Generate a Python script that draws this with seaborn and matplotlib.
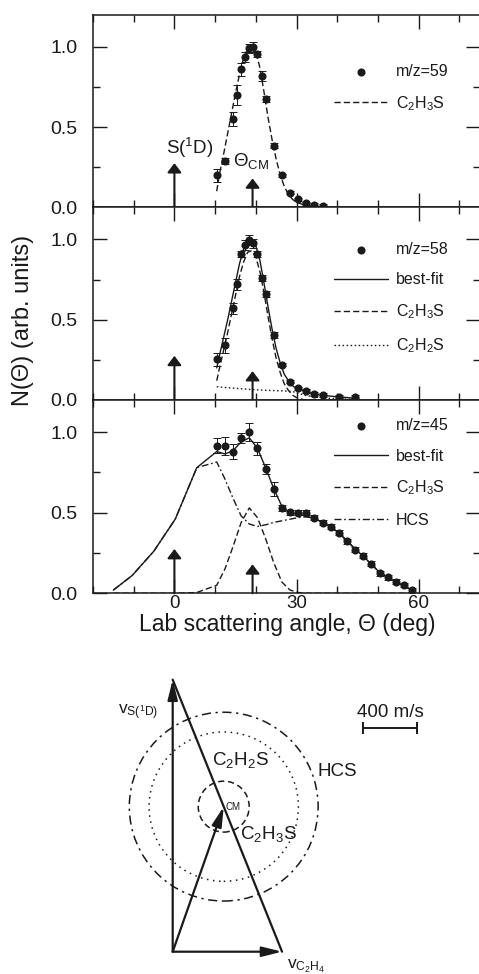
import numpy as np
import matplotlib
matplotlib.use('Agg')
import matplotlib.pyplot as plt
from matplotlib.patches import Circle
from matplotlib.ticker import FixedLocator, MultipleLocator, FormatStrFormatter
import seaborn as sns

# ---- m/z = 59 ----
ang59 = [10.4, 12.4, 14.4, 15.4, 16.4, 17.4, 18.4, 19.4, 20.4, 21.4, 22.4, 24.4, 26.4, 28.4, 30.4, 32.4, 34.4, 36.4]
val59 = [0.20, 0.29, 0.55, 0.70, 0.86, 0.935, 0.99, 1.00, 0.956, 0.82, 0.675, 0.385, 0.20, 0.09, 0.05, 0.025, 0.015, 0.01]
err59 = [0.04, 0.02, 0.045, 0.06, 0.04, 0.03, 0.03, 0.03, 0.02, 0.03, 0.02, 0.015, 0.01, 0.01, 0.01, 0.01, 0.01, 0.01]
fit59_x = [10.4, 11, 12, 13, 14, 15, 16, 17, 18, 19, 20, 21, 22, 23, 24, 25, 26, 27, 28, 29, 30, 32, 34, 36]
c2h3s59 = [0.10, 0.20, 0.32, 0.45, 0.58, 0.71, 0.83, 0.93, 0.99, 1.00, 0.97, 0.87, 0.72, 0.56, 0.42, 0.30, 0.20, 0.13, 0.08, 0.05, 0.03, 0.015, 0.008, 0.004]

# ---- m/z = 58 ----
ang58 = [10.4, 12.4, 14.4, 15.4, 16.4, 17.4, 18.4, 19.4, 20.4, 21.4, 22.4, 24.4, 26.4, 28.4, 30.4, 32.4, 34.4, 36.4, 40.4, 44.4]
val58 = [0.254, 0.34, 0.57, 0.72, 0.91, 0.965, 0.996, 0.975, 0.91, 0.76, 0.66, 0.406, 0.22, 0.115, 0.073, 0.056, 0.038, 0.031, 0.02, 0.02]
err58 = [0.04, 0.045, 0.035, 0.035, 0.02, 0.03, 0.03, 0.03, 0.02, 0.02, 0.02, 0.02, 0.01, 0.01, 0.01, 0.01, 0.01, 0.01, 0.01, 0.01]
fit58_x = [10.4, 11, 12, 13, 14, 15, 16, 17, 18, 19, 20, 21, 22, 23, 24, 25, 26, 27, 28, 29, 30, 32, 34, 36, 40, 44]
best58 = [0.20, 0.27, 0.38, 0.49, 0.61, 0.73, 0.85, 0.94, 0.99, 1.00, 0.96, 0.87, 0.73, 0.58, 0.44, 0.32, 0.23, 0.16, 0.12, 0.09, 0.07, 0.055, 0.04, 0.03, 0.02, 0.012]
c2h3s58 = [0.12, 0.19, 0.30, 0.41, 0.53, 0.65, 0.77, 0.86, 0.92, 0.93, 0.89, 0.80, 0.67, 0.52, 0.38, 0.26, 0.17, 0.10, 0.06, 0.03, 0.015, 0.0, 0.0, 0.0, 0.0, 0.0]
c2h2s58 = [0.083, 0.081, 0.079, 0.077, 0.075, 0.073, 0.071, 0.069, 0.067, 0.065, 0.064, 0.062, 0.061, 0.060, 0.059, 0.058, 0.057, 0.056, 0.055, 0.053, 0.045, 0.03, 0.02, 0.014, 0.008, 0.005]

# ---- m/z = 45 ----
ang45 = [10.4, 12.4, 14.4, 16.4, 18.4, 20.4, 22.4, 24.4, 26.4, 28.4, 30.4, 32.4, 34.4, 36.4, 38.4, 40.4,
         42.4, 44.4, 46.4, 48.4, 50.4, 52.4, 54.4, 56.4, 58.4]
val45 = [0.916, 0.9125, 0.879, 0.9625, 1.0, 0.90, 0.77, 0.646, 0.531, 0.504, 0.50, 0.50, 0.469, 0.4375, 0.4125, 0.375,
         0.3225, 0.27, 0.233, 0.183, 0.125, 0.10, 0.0725, 0.052, 0.02]
err45 = [0.045, 0.055, 0.045, 0.03, 0.055, 0.04, 0.03, 0.045, 0.02, 0.015, 0.015, 0.015, 0.015, 0.015, 0.015, 0.015,
         0.015, 0.015, 0.015, 0.015, 0.015, 0.015, 0.015, 0.015, 0.015]
fit45_x = [-15, -10.4, -5.1, 0.2, 5.5, 10.4, 12.4, 14.4, 16.4, 18.4, 20.4, 22.4, 24.4, 26.4, 28.4, 30.4, 32.4,
           34.4, 36.4, 38.4, 40.4, 42.4, 44.4, 46.4, 48.4, 50.4, 52.4, 54.4, 56.4, 58.4]
best45 = [0.02, 0.11, 0.26, 0.46, 0.78, 0.88, 0.865, 0.885, 0.94, 0.965, 0.90, 0.78, 0.65, 0.54, 0.50, 0.49, 0.48,
          0.465, 0.44, 0.41, 0.375, 0.325, 0.275, 0.23, 0.18, 0.13, 0.10, 0.07, 0.045, 0.02]
c2h3s45 = [0.0, 0.0, 0.0, 0.0, 0.005, 0.05, 0.15, 0.29, 0.44, 0.53, 0.47, 0.34, 0.19, 0.07, 0.02, 0.005, 0.0,
           0.0, 0.0, 0.0, 0.0, 0.0, 0.0, 0.0, 0.0, 0.0, 0.0, 0.0, 0.0, 0.0]
hcs45 = [0.02, 0.11, 0.26, 0.46, 0.78, 0.815, 0.71, 0.59, 0.48, 0.43, 0.415, 0.425, 0.44, 0.45, 0.46, 0.47, 0.475,
         0.465, 0.44, 0.41, 0.375, 0.325, 0.275, 0.23, 0.18, 0.13, 0.10, 0.07, 0.045, 0.02]

# arrows in the angular panels
theta_s1d = 0.0
theta_cm = 19.2

# ---- Newton diagram (m/s) ----
v_s1d = 2040
v_c2h4 = 820
m_s, m_c2h4 = 32, 28
radii = [191, 560, 708]        # C2H3S, C2H2S, HCS
scale_len = 400

sns.set_theme(style='ticks', rc={'axes.edgecolor': 'k', 'xtick.color': 'k', 'ytick.color': 'k',
                                 'text.color': 'k', 'axes.labelcolor': 'k'})
plt.rcParams['font.family'] = ['Liberation Sans', 'DejaVu Sans']
plt.rcParams['mathtext.fontset'] = 'custom'
plt.rcParams['mathtext.rm'] = 'Liberation Sans'
plt.rcParams['mathtext.it'] = 'Liberation Sans:italic'
plt.rcParams['mathtext.bf'] = 'Liberation Sans:bold'

W, H = 479, 974
fig = plt.figure(figsize=(W / 100, H / 100), dpi=100)


def px_axes(x0, y0, x1, y1):
    return fig.add_axes([x0 / W, 1 - y1 / H, (x1 - x0) / W, (y1 - y0) / H])


panel_edges = [14.7, 207.3, 400.0, 593.3]
axes = [px_axes(93, panel_edges[i], 479.7, panel_edges[i + 1]) for i in range(3)]

DASH = (0, (4.5, 2.2))
DOT = (0, (1.1, 1.8))
DASHDOT = (0, (5, 2, 1.2, 2))


def style_panel(ax, bottom_labels):
    ax.set_xlim(-20, 75)
    ax.set_ylim(0, 1.2)
    ax.xaxis.set_major_locator(MultipleLocator(30))
    ax.xaxis.set_minor_locator(MultipleLocator(10))
    ax.yaxis.set_major_locator(FixedLocator([0, 0.5, 1.0]))
    ax.yaxis.set_minor_locator(FixedLocator([0.25, 0.75]))
    ax.yaxis.set_major_formatter(FormatStrFormatter('%.1f'))
    ax.tick_params(which='both', direction='in', top=True, right=True, width=1.0)
    ax.tick_params(which='major', length=10)
    ax.tick_params(which='minor', length=5)
    ax.tick_params(axis='y', pad=11, labelsize=14)
    ax.tick_params(axis='x', labelbottom=bottom_labels, pad=1.5, labelsize=13.5)
    for s in ax.spines.values():
        s.set_linewidth(1.1)
    ax.set(xlabel='', ylabel='')


def data_points(ax, x, y, e, label):
    ax.errorbar(x, y, yerr=e, fmt='none', ecolor='k', elinewidth=0.7, capsize=2.8, capthick=0.7, zorder=2)
    sns.scatterplot(x=x, y=y, ax=ax, color='k', s=34, linewidth=0, label=label, zorder=3)
    return ax.collections[-1]


def fit_line(ax, x, y, ls, label):
    sns.lineplot(x=x, y=y, ax=ax, color='k', lw=1.0, linestyle=ls, label=label, sort=False, zorder=2)
    return ax.lines[-1]


def beam_arrows(ax):
    for xa, ha in [(theta_s1d, 0.275), (theta_cm, 0.18)]:
        ax.annotate('', xy=(xa, ha), xytext=(xa, 0),
                    arrowprops=dict(arrowstyle='-|>,head_length=0.55,head_width=0.42', mutation_scale=10,
                                    color='k', lw=1.5, shrinkA=0, shrinkB=0))


def legend(ax, handles, labels, y_top):
    ax.legend(handles, labels, loc='upper right', bbox_to_anchor=(0.919, y_top), frameon=False,
              fontsize=11.5, handlelength=3.4, handletextpad=0.45, labelspacing=0.95,
              borderpad=0, borderaxespad=0)


C2H3S = r'C$_2$H$_3$S'
C2H2S = r'C$_2$H$_2$S'

# panel 1
ax = axes[0]
h0 = data_points(ax, ang59, val59, err59, 'm/z=59')
h1 = fit_line(ax, fit59_x, c2h3s59, DASH, C2H3S)
beam_arrows(ax)
ax.text(3.8, 0.37, r'S($^1$D)', ha='center', va='center', fontsize=13.5)
ax.text(14.4, 0.29, r'$\Theta_{\mathrm{CM}}$', ha='left', va='center', fontsize=13.5)
style_panel(ax, False)
legend(ax, [h0, h1], ['m/z=59', C2H3S], 0.745)

# panel 2
ax = axes[1]
h0 = data_points(ax, ang58, val58, err58, 'm/z=58')
h1 = fit_line(ax, fit58_x, best58, '-', 'best-fit')
h2 = fit_line(ax, fit58_x, c2h3s58, DASH, C2H3S)
h3 = fit_line(ax, fit58_x, c2h2s58, DOT, C2H2S)
beam_arrows(ax)
style_panel(ax, False)
legend(ax, [h0, h1, h2, h3], ['m/z=58', 'best-fit', C2H3S, C2H2S], 0.82)

# panel 3
ax = axes[2]
h0 = data_points(ax, ang45, val45, err45, 'm/z=45')
h1 = fit_line(ax, fit45_x, best45, '-', 'best-fit')
h2 = fit_line(ax, fit45_x, c2h3s45, DASH, C2H3S)
h3 = fit_line(ax, fit45_x, hcs45, DASHDOT, 'HCS')
beam_arrows(ax)
style_panel(ax, True)
legend(ax, [h0, h1, h2, h3], ['m/z=45', 'best-fit', C2H3S, 'HCS'], 0.905)

fig.text(287.5 / W, 1 - 631 / H, 'Lab scattering angle, \u0398 (deg)', ha='center', va='baseline', fontsize=16.5)
fig.text(23 / W, 1 - 320 / H, 'N(\u0398) (arb. units)', rotation=90, ha='center', va='center', fontsize=17)

# ---- Newton diagram ----
nd = px_axes(100, 660, 479, 974)
scale = 7.5  # m/s per pixel
ox, oy = 172.7, 951.7
nd.set_xlim(-(ox - 100) * scale, (479 - ox) * scale)
nd.set_ylim(-(974 - oy) * scale, (oy - 660) * scale)
nd.axis('off')

cm = (m_c2h4 * v_c2h4 / (m_s + m_c2h4), m_s * v_s1d / (m_s + m_c2h4))
for r, ls in zip(radii, [(0, (4, 2.5)), (0, (1, 3)), (0, (6, 3, 1.5, 3))]):
    nd.add_patch(Circle(cm, r, fill=False, ec='k', lw=1.1, ls=ls))

nd.plot([0, v_c2h4], [v_s1d, 0], color='k', lw=1.6)
head = dict(arrowstyle='-|>,head_length=1.2,head_width=0.3', mutation_scale=10, color='k', lw=1.6,
            shrinkA=0, shrinkB=0)
nd.annotate('', xy=(0, v_s1d), xytext=(0, 0), arrowprops=head)
nd.annotate('', xy=(v_c2h4, 0), xytext=(0, 0), arrowprops=head)
nd.annotate('', xy=cm, xytext=(0, 0), arrowprops=head)

# scale bar
sb_x, sb_y = 1430, 1675
nd.plot([sb_x, sb_x + scale_len], [sb_y, sb_y], color='k', lw=1.4)
nd.plot([sb_x, sb_x + scale_len], [sb_y, sb_y], ls='none', marker='|', ms=8, mew=1.4, color='k')
nd.text(sb_x + scale_len / 2, 1794, f'{scale_len} m/s', ha='center', va='center', fontsize=13.5)

nd.text(-410, 1796, r'$\mathrm{v_{S(^1D)}}$', ha='left', va='center', fontsize=12.5)
nd.text(855, -40, r'$\mathrm{v_{C_2H_4}}$', ha='left', va='top', fontsize=12.5)
nd.text(505, 1438, C2H2S, ha='center', va='center', fontsize=13.5)
nd.text(1236, 1351, 'HCS', ha='center', va='center', fontsize=13.5)
nd.text(cm[0] + 12, cm[1], 'CM', ha='left', va='center', fontsize=7)
nd.text(716, 883, C2H3S, ha='center', va='center', fontsize=13.5)

fig.savefig('out.png', dpi=100)
